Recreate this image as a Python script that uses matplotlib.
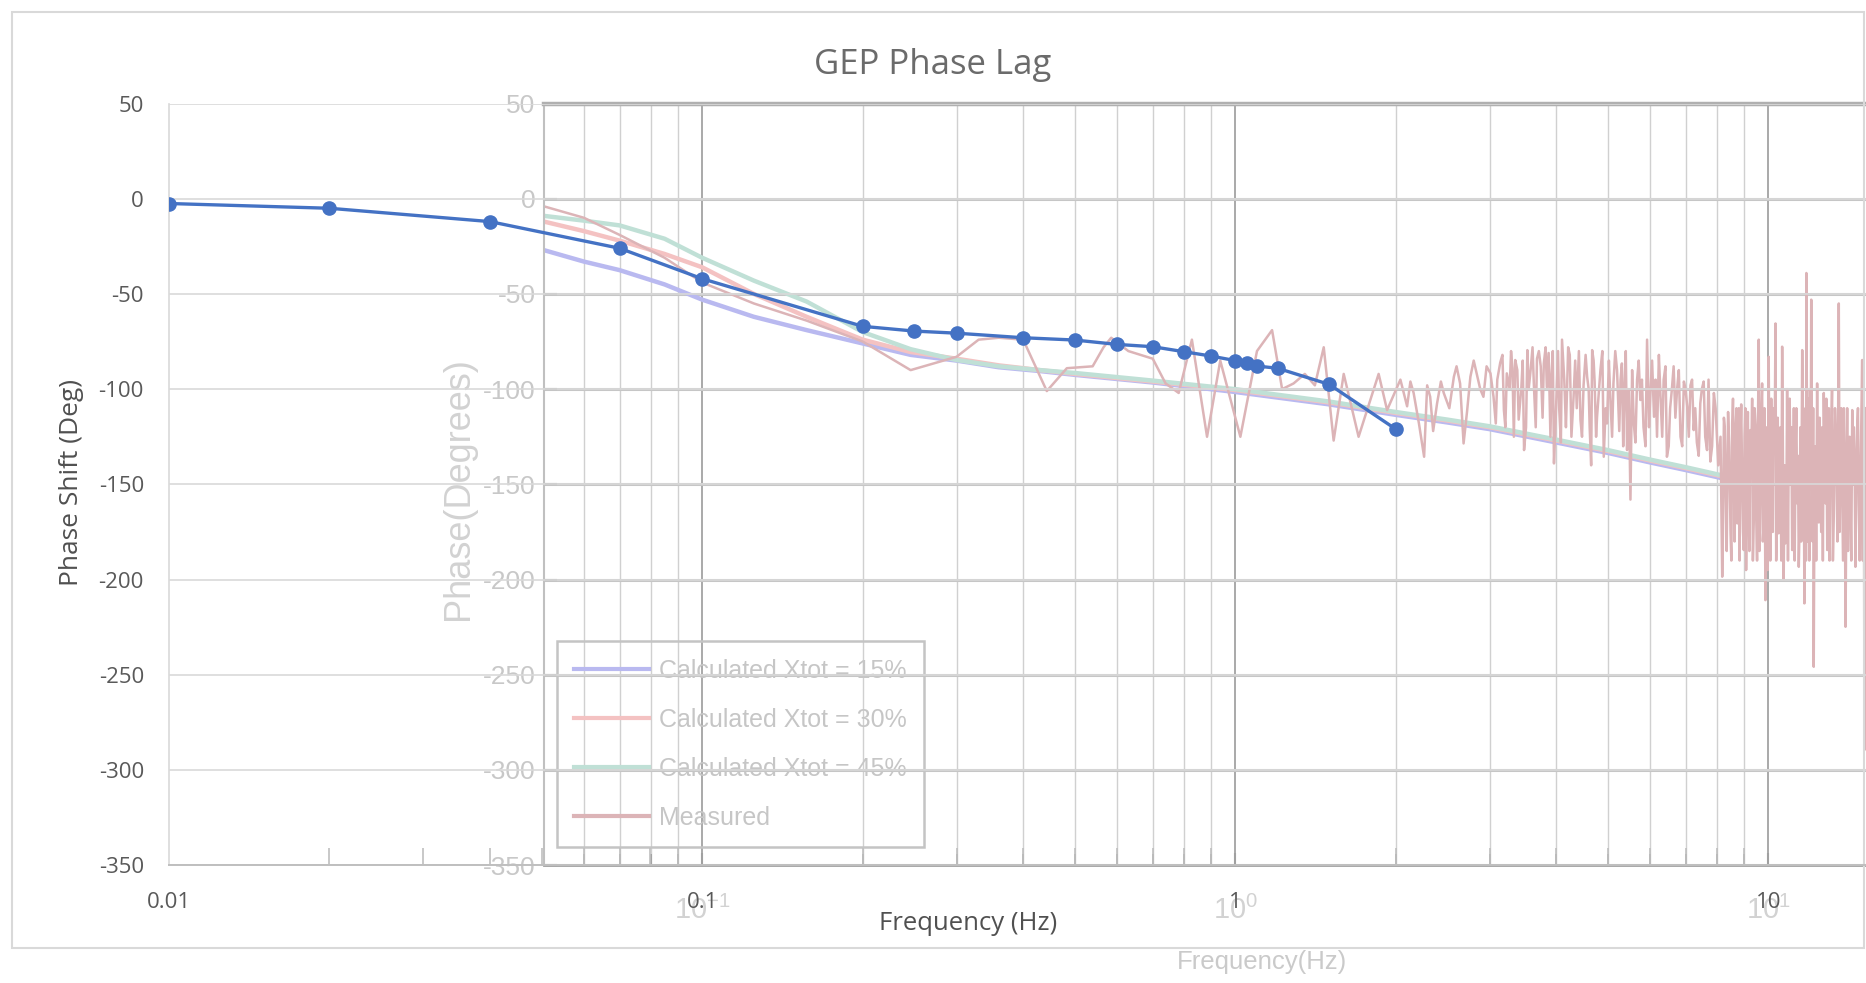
import matplotlib
matplotlib.use("Agg")
import matplotlib.pyplot as plt
from matplotlib.patches import Rectangle
from matplotlib.ticker import LogLocator, NullFormatter, FixedLocator
import numpy as np

plt.rcParams['axes.unicode_minus'] = False
plt.rcParams['mathtext.fontset'] = 'custom'
plt.rcParams['mathtext.rm'] = 'Liberation Sans'
plt.rcParams['mathtext.it'] = 'Liberation Sans'
plt.rcParams['mathtext.bf'] = 'Liberation Sans'

# ---------------- data: Excel series (front chart) ----------------
gep_freq = [0.01, 0.02, 0.04, 0.07, 0.1, 0.2, 0.25, 0.3, 0.4, 0.5, 0.6, 0.7,
            0.8, 0.9, 1.0, 1.05, 1.1, 1.2, 1.5, 2.0]
gep_phase = [-2.5, -5, -12, -26, -42, -67, -69.5, -70.6, -73, -74.2, -76.5, -77.7,
             -80.3, -82.6, -85, -86.5, -87.9, -89, -97.5, -121]

# ---------------- data: background (faded) chart ----------------
calc_freq = [0.0505, 0.06, 0.07, 0.085, 0.1, 0.125, 0.157, 0.2, 0.246, 0.3, 0.36,
             0.43, 0.5, 0.7, 1.0, 1.5, 2.0, 2.5, 3.0, 4.0, 5.0, 6.0, 7.0, 8.1]
xtot15 = [-27, -33, -37.5, -45, -53, -62, -69, -76, -82, -85, -88.5, -90.5, -92.5,
          -96.5, -101.5, -108, -113.5, -117.5, -121, -128, -133.5, -138.5, -142.5, -146.5]
xtot30 = [-12, -17, -22, -29, -36, -50, -62, -74, -80.5, -84, -87.5, -90, -92,
          -96, -100.5, -107, -112.5, -116.5, -120, -127, -132.5, -137.5, -141.5, -145.5]
xtot45 = [-9, -11.5, -14, -21, -31, -43, -54, -70, -79, -84.7, -88, -90, -91.5,
          -95.5, -100, -106.5, -112, -116, -119.5, -126.5, -132, -137, -141, -145]

meas_freq = [
    0.0505, 0.06, 0.07, 0.085, 0.1, 0.125, 0.157, 0.2, 0.246, 0.3, 0.33, 0.36, 0.4,
    0.443, 0.483, 0.54, 0.566, 0.585, 0.63, 0.7, 0.74, 0.783, 0.829, 0.885, 0.937,
    1.022, 1.098, 1.172, 1.224, 1.286, 1.35, 1.41, 1.465, 1.529, 1.597, 1.703, 1.857,
    1.926, 2.04,
    2.10, 2.16, 2.26, 2.32, 2.39, 2.46, 2.57, 2.64, 2.68, 2.76, 2.84, 2.88, 2.92, 2.96,
    3.01, 3.05, 3.10, 3.14, 3.19, 3.23, 3.27, 3.31, 3.35, 3.40, 3.44, 3.48, 3.53, 3.58,
    3.63, 3.68, 3.74, 3.79, 3.84, 3.87, 3.92, 3.96, 4.01, 4.05, 4.10, 4.14, 4.19, 4.24,
    4.31, 4.37, 4.44, 4.50, 4.57, 4.62, 4.67, 4.72, 4.77, 4.84, 4.91, 4.98, 5.05, 5.12,
    5.20, 5.25, 5.31, 5.37, 5.43, 5.51, 5.59, 5.67, 5.75, 5.83, 5.92, 6.01, 6.10, 6.18,
    6.27, 6.36, 6.45, 6.54, 6.64, 6.74, 6.84, 6.94, 7.04, 7.14, 7.24, 7.34, 7.45, 7.56,
    7.67, 7.78, 7.90, 8.13,
    8.19, 8.25, 8.31, 8.40, 8.49, 8.55, 8.61, 8.68, 8.74, 8.80, 8.86, 8.93, 8.99, 9.05,
    9.12, 9.18, 9.25, 9.32, 9.39, 9.46, 9.52, 9.59, 9.66, 9.73, 9.80, 9.87, 9.94, 10.01,
    10.08, 10.16, 10.23, 10.31, 10.38, 10.45, 10.53, 10.61, 10.68, 10.76, 10.84, 10.92,
    11.00, 11.08, 11.16, 11.24, 11.32, 11.40, 11.48, 11.57, 11.62, 11.68, 11.73, 11.78,
    11.84, 11.90, 11.96, 12.03, 12.10, 12.16, 12.25, 12.34, 12.43, 12.52, 12.61, 12.70,
    12.80, 12.89, 12.98, 13.07, 13.16, 13.26, 13.40, 13.55, 13.65, 13.75, 13.85, 13.95,
    14.05, 14.15, 14.25, 14.36, 14.46, 14.56, 14.67, 14.77, 14.88, 14.99, 15.07, 15.14,
    15.20]
meas_phase = [
    -4, -10, -19, -31, -44, -55, -64, -75, -90, -83, -74, -73, -74,
    -101, -89, -88, -78, -73, -80, -84, -97, -102, -74, -125, -85,
    -125, -80, -69, -100, -97, -92, -98, -78, -127, -92, -125, -92,
    -111, -95,
    -109, -102, -135.5, -104, -107.5, -102, -93.5, -97, -128.5, -93.5, -92.6, -100, -104, -88,
    -91.7, -104, -95, -86, -111, -91.7, -100, -89, -84.7, -116, -99, -132, -79.5, -90,
    -97, -84, -88, -86.5, -99, -81, -92, -139, -97, -110, -74, -95, -100.5, -82,
    -104, -110, -116, -98, -93.5, -120, -79.5, -96, -114.5, -90, -135.5, -118, -104, -97,
    -90, -122, -86.5, -100, -132, -158, -118, -95, -105.7, -120, -74, -100, -114.5, -125,
    -102, -95, -135.5, -110, -88, -100, -125, -96, -109, -98, -121.5, -128, -107.5, -96,
    -132, -138, -102, -125,
    -198.5, -115, -150, -112, -175.7, -118, -135.5, -120, -170.5, -110, -125, -150, -184.5, -110,
    -140.7, -160, -121.5, -105, -167, -120, -190, -74, -150, -97, -170, -210.8, -120, -83,
    -190, -149.5, -110, -65.5, -160, -175.7, -120, -77.7, -200, -181, -100, -125,
    -150, -184.5, -110, -132, -160, -193.3, -120, -79.5, -170, -212.5, -110, -39,
    -180, -132, -100, -53, -180, -245.8, -130, -97, -170, -149.5, -120, -102,
    -160, -184.5, -110, -132, -100, -167, -130, -55, -130, -149.5, -110, -224.8,
    -110, -132, -160, -111, -120, -193.3, -120, -160, -150, -84.7, -140, -289.5,
    -110]

# extra measured samples read between the ones above (dense high-frequency part)
meas_freq_extra = [
    2.13, 2.21, 2.29, 2.35, 2.43, 2.52, 2.60, 2.72, 2.80, 3.08, 3.17, 3.21, 3.29, 3.33,
    3.38, 3.46, 3.51, 3.55, 3.61, 3.66, 3.71, 3.77, 3.82, 3.90, 3.94, 3.99, 4.03, 4.08,
    4.12, 4.17, 4.21, 4.27, 4.34, 4.41, 4.47, 4.54, 4.60, 4.65, 4.70, 4.75, 4.81, 4.88,
    4.95, 5.02, 5.09, 5.16, 5.23, 5.28, 5.34, 5.40, 5.47, 5.55, 5.63, 5.71, 5.79, 5.88,
    5.97, 6.05, 6.14, 6.23, 6.32, 6.41, 6.50, 6.59, 6.69, 6.79, 6.89, 6.99, 7.09, 7.19,
    7.29, 7.40, 7.50, 7.61, 7.72, 7.84, 7.96, 8.05,
    8.22, 8.28, 8.35, 8.44, 8.52, 8.58, 8.64, 8.71, 8.77, 8.83, 8.89, 8.96, 9.02, 9.08,
    9.15, 9.21, 9.28, 9.35, 9.42, 9.49, 9.55, 9.62, 9.69, 9.76, 9.83, 9.90, 9.97, 10.04,
    10.12, 10.19, 10.27, 10.34, 10.41, 10.49, 10.57, 10.64, 10.72, 10.80, 10.88, 10.96,
    11.04, 11.12, 11.20, 11.28, 11.36, 11.44, 11.52, 11.60, 11.65, 11.70, 11.76, 11.81,
    11.87, 11.93, 12.00, 12.06, 12.13, 12.20, 12.29, 12.38, 12.47, 12.56, 12.65, 12.75,
    12.84, 12.93, 13.02, 13.11, 13.21, 13.33, 13.47, 13.60, 13.70, 13.80, 13.90, 14.00,
    14.10, 14.20, 14.30, 14.41, 14.51, 14.61, 14.72, 14.83, 14.93, 15.03, 15.10, 15.17]
meas_phase_extra = [
    -96, -118, -98, -122, -96, -110, -88, -112, -85, -118, -82, -120, -80, -125,
    -90, -85, -120, -100, -78, -120, -80, -115, -78, -125, -80, -115, -80, -128,
    -85, -120, -78, -125, -85, -80, -125, -82, -100, -140, -85, -125, -100, -80,
    -110, -85, -125, -80, -110, -95, -130, -80, -100, -90, -128, -85, -95, -130,
    -120, -85, -95, -82, -125, -88, -130, -100, -115, -90, -130, -100, -125, -95,
    -110, -135, -100, -125, -95, -130, -110, -140,
    -170, -120, -185, -130, -190, -105, -180, -110, -150, -190, -108, -175, -125, -195,
    -112, -185, -140, -190, -110, -170, -130, -185, -115, -180, -110, -160, -195, -140,
    -105, -175, -130, -190, -115, -150, -190, -125, -140, -170, -190, -105,
    -120, -170, -190, -110, -135, -170, -180, -115, -140, -150, -190, -120,
    -105, -190, -150, -120, -110, -150, -190, -160, -115, -175, -190, -140,
    -105, -165, -190, -125, -190, -110, -180, -175, -110, -190, -140, -160,
    -185, -125, -190, -150, -140, -150, -110, -190, -120, -190, -120, -200]

y_ticks = [50, 0, -50, -100, -150, -200, -250, -300, -350]
excel_xticks = [0.01, 0.1, 1, 10]
excel_xticklabels = ['0.01', '0.1', '1', '10']
matlab_xticks = [0.1, 1, 10]
matlab_xticklabels = [r'$\mathregular{10^{-1}}$', r'$\mathregular{10^{0}}$', r'$\mathregular{10^{1}}$']
legend_labels = ['Calculated Xtot = 15%', 'Calculated Xtot = 30%',
                 'Calculated Xtot = 45%', 'Measured']

ARIAL = ['Liberation Sans', 'DejaVu Sans']
EXCEL_FONT = ['Open Sans', 'DejaVu Sans']
faint = '#c8c8c8'

fig = plt.figure(figsize=(18.66, 9.83), dpi=100)
fig.patch.set_facecolor('white')

ax_bottom, ax_h = 0.11985, 0.77482
axm = fig.add_axes([0.29145, ax_bottom, 1 - 0.29145, ax_h])
axe = fig.add_axes([0.09056, ax_bottom, 1 - 0.09056, ax_h])
axe.set_zorder(3)
axe.patch.set_alpha(0)

# ---------------- background faded chart ----------------
axm.set_xscale('log')
axm.set_xlim(0.05046, 15.24)
axm.set_ylim(-350, 50)
axm.set_yticks(y_ticks)
axm.xaxis.set_major_locator(FixedLocator(matlab_xticks))
axm.set_xticklabels(matlab_xticklabels)
axm.xaxis.set_minor_locator(LogLocator(base=10, subs=np.arange(2, 10)))
axm.xaxis.set_minor_formatter(NullFormatter())
axm.grid(which='major', axis='x', color='#a9a9a9', lw=1.4)
axm.grid(which='minor', axis='x', color='#d0d0d0', lw=1.0)
axm.grid(which='major', axis='y', color='#c6c6c6', lw=2.2)
axm.set_axisbelow(True)
axm.tick_params(axis='y', which='major', direction='in', length=9, width=1.5,
                color='#a0a0a0', labelsize=19, labelcolor=faint, pad=6)
axm.tick_params(axis='x', which='major', direction='in', length=9, width=1.5,
                color='#a0a0a0', labelsize=21, labelcolor='#d2d2d2', pad=22)
axm.tick_params(axis='x', which='minor', direction='in', length=8, width=1.3,
                color='#a0a0a0')
for lab in axm.get_yticklabels() + axm.get_xticklabels():
    lab.set_fontfamily(ARIAL)
axm.spines['right'].set_visible(False)
axm.spines['left'].set_color('#c0c0c0')
axm.spines['left'].set_linewidth(1.5)
axm.spines['top'].set_color('#b0b0b0')
axm.spines['top'].set_linewidth(3.2)
axm.spines['bottom'].set_color('#a0a0a0')
axm.spines['bottom'].set_linewidth(2.0)

mf = np.array(meas_freq + meas_freq_extra)
mp = np.array(meas_phase + meas_phase_extra)
order = np.argsort(mf)

l15, = axm.plot(calc_freq, xtot15, color='#b9b9f0', lw=3.2)
l30, = axm.plot(calc_freq, xtot30, color='#f4c2c2', lw=3.2)
l45, = axm.plot(calc_freq, xtot45, color='#c0e0d6', lw=3.2)
lme, = axm.plot(mf[order], mp[order], color='#dcb4b7', lw=1.8)

axm.set_ylabel('Phase(Degrees)', fontsize=26, color='#d2d2d2', fontfamily=ARIAL)
axm.yaxis.set_label_coords(-0.0648, 0.495)
axm.yaxis.label.set_va('center')
axm.set_xlabel('Frequency(Hz)', fontsize=18.5, color='#cacaca', fontfamily=ARIAL)
axm.xaxis.set_label_coords(0.5428, -0.1266)
axm.xaxis.label.set_va('center')

leg = axm.legend([l15, l30, l45, lme], legend_labels, loc='lower left',
                 bbox_to_anchor=(0.0099, 0.0234), borderaxespad=0,
                 prop={'family': ARIAL, 'size': 18}, labelcolor='#c6c6c6',
                 frameon=True, fancybox=False, framealpha=1, facecolor='none',
                 edgecolor='#c4c4c4',
                 handlelength=3.0, handletextpad=0.38, borderpad=0.7,
                 labelspacing=1.0)
leg.get_frame().set_linewidth(1.8)
for h in leg.get_lines():
    h.set_linewidth(3)

# ---------------- front Excel chart ----------------
axe.set_xscale('log')
axe.set_xlim(0.01, 15.24)
axe.set_ylim(-350, 50)
axe.set_yticks(y_ticks)
axe.xaxis.set_major_locator(FixedLocator(excel_xticks))
axe.set_xticklabels(excel_xticklabels)
axe.xaxis.set_minor_locator(LogLocator(base=10, subs=np.arange(2, 10)))
axe.xaxis.set_minor_formatter(NullFormatter())
axe.grid(which='major', axis='y', color='#d9d9d9', lw=1.2)
axe.tick_params(axis='y', length=0, labelsize=16, labelcolor='#595959', pad=18)
axe.tick_params(axis='x', which='major', length=0, labelsize=16,
                labelcolor='#595959', pad=19)
axe.tick_params(axis='x', which='minor', direction='in', length=12, width=1.2,
                color='#bfbfbf')
for lab in axe.get_yticklabels() + axe.get_xticklabels():
    lab.set_fontfamily(EXCEL_FONT)
for s in ['top', 'right']:
    axe.spines[s].set_visible(False)
axe.spines['left'].set_color('#d9d9d9')
axe.spines['left'].set_linewidth(1.2)
axe.spines['bottom'].set_color('#bfbfbf')
axe.spines['bottom'].set_linewidth(1.4)

axe.plot(gep_freq, gep_phase, color='#4472c4', lw=2.4, marker='o', ms=9.5,
         markerfacecolor='#4472c4', markeredgecolor='#4472c4', zorder=5)

axe.set_ylabel('Phase Shift (Deg)', fontsize=19, color='#505050', fontfamily=EXCEL_FONT)
axe.yaxis.set_label_coords(-0.0575, 0.503)
axe.yaxis.label.set_va('center')
axe.set_xlabel('Frequency (Hz)', fontsize=18.5, color='#505050', fontfamily=EXCEL_FONT)
axe.xaxis.set_label_coords(0.4712, -0.0766)
axe.xaxis.label.set_va('center')

fig.text(0.5, 0.934, 'GEP Phase Lag', ha='center', va='center', fontsize=25,
         color='#6b6b6b', fontfamily=EXCEL_FONT)

fig.patches.append(Rectangle((0.0064, 0.0351), 0.9926, 0.9529, transform=fig.transFigure,
                             fill=False, edgecolor='#d9d9d9', lw=1.5, zorder=0))

fig.savefig('out.png', dpi=100, facecolor='white')
